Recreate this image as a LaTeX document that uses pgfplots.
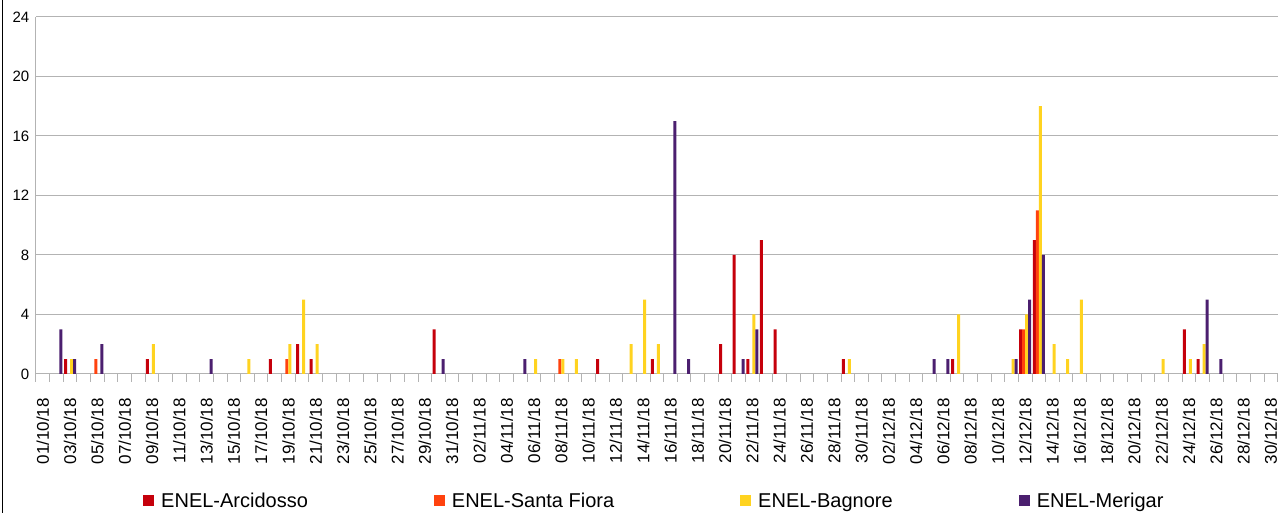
\documentclass[border=0pt]{standalone}
\usepackage{fontspec}
\setmainfont{Liberation Sans}
\usepackage{pgfplots}
\pgfplotsset{compat=1.18}
\definecolor{cArc}{HTML}{C5000B}
\definecolor{cSF}{HTML}{FF420E}
\definecolor{cBag}{HTML}{FFD320}
\definecolor{cMer}{HTML}{4B1F6F}
\definecolor{gridc}{HTML}{B3B3B3}
\pgfplotsset{sqleg/.style={legend image code/.code={\fill[##1] (0pt,-5.5pt) rectangle (11pt,5.5pt);}}}
\begin{document}
\begin{tikzpicture}
\useasboundingbox (0,0) rectangle (1282pt,513pt);
\draw[black, line width=1.3pt] (2.5pt,0) -- (2.5pt,513pt);
\begin{axis}[
  at={(36pt,139pt)}, anchor=south west,
  width=1241.7pt, height=357pt, scale only axis,
  xmin=-0.5, xmax=90.5, ymin=0, ymax=24,
  ybar=0pt, bar width=3pt,
  axis x line*=bottom, axis y line*=left,
  axis line style={gridc, line width=1pt, -},
  ytick={0,4,...,24},
  ymajorgrids, grid style={gridc, line width=1pt},
  tick align=outside,
  major tick length=0pt,
  minor tick length=8pt,
  major tick style={draw=none},
  minor tick style={gridc, line width=1pt},
  xtick={0,2,...,90},
  minor xtick={-0.5,0.5,...,90.5},
  xticklabels={01/10/18,03/10/18,05/10/18,07/10/18,09/10/18,11/10/18,13/10/18,15/10/18,17/10/18,19/10/18,21/10/18,23/10/18,25/10/18,27/10/18,29/10/18,31/10/18,02/11/18,04/11/18,06/11/18,08/11/18,10/11/18,12/11/18,14/11/18,16/11/18,18/11/18,20/11/18,22/11/18,24/11/18,26/11/18,28/11/18,30/11/18,02/12/18,04/12/18,06/12/18,08/12/18,10/12/18,12/12/18,14/12/18,16/12/18,18/12/18,20/12/18,22/12/18,24/12/18,26/12/18,28/12/18,30/12/18},
  xticklabel style={rotate=90, anchor=east, inner sep=0pt, font=\fontsize{17}{20}\selectfont},
  xticklabel shift=24pt,
  yticklabel style={inner sep=0pt, xshift=-6.5pt, font=\fontsize{15}{18}\selectfont},
  /pgf/number format/assume math mode=true,
  legend style={at={(0.0862,-0.3557)}, anchor=west, draw=none, fill=none, inner sep=0pt,
    font=\fontsize{20}{23}\selectfont,
    /tikz/every even column/.append style={column sep=124pt},
    /tikz/every odd column/.append style={column sep=5pt}},
  legend columns=4,
  legend cell align=left,
]
\addplot[fill=cArc, draw=none, sqleg] coordinates {
(2,1) (8,1) (17,1) (19,2) (20,1) (29,3) (41,1) (45,1) (50,2) (51,8) (52,1) (53,9) (54,3) (59,1) (67,1) (72,3) (73,9) (84,3) (85,1)};
\addlegendentry{ENEL-Arcidosso}
\addplot[fill=cSF, draw=none, sqleg] coordinates {
(4,1) (18,1) (38,1) (72,3) (73,11)};
\addlegendentry{ENEL-Santa Fiora}
\addplot[fill=cBag, draw=none, sqleg] coordinates {
(2,1) (8,2) (15,1) (18,2) (19,5) (20,2) (36,1) (38,1) (39,1) (43,2) (44,5) (45,2) (52,4) (59,1) (67,4) (71,1) (72,4) (73,18) (74,2) (75,1) (76,5) (82,1) (84,1) (85,2)};
\addlegendentry{ENEL-Bagnore}
\addplot[fill=cMer, draw=none, sqleg] coordinates {
(1,3) (2,1) (4,2) (12,1) (29,1) (35,1) (46,17) (47,1) (51,1) (52,3) (65,1) (66,1) (71,1) (72,5) (73,8) (85,5) (86,1)};
\addlegendentry{ENEL-Merigar}
\end{axis}
\end{tikzpicture}
\end{document}
